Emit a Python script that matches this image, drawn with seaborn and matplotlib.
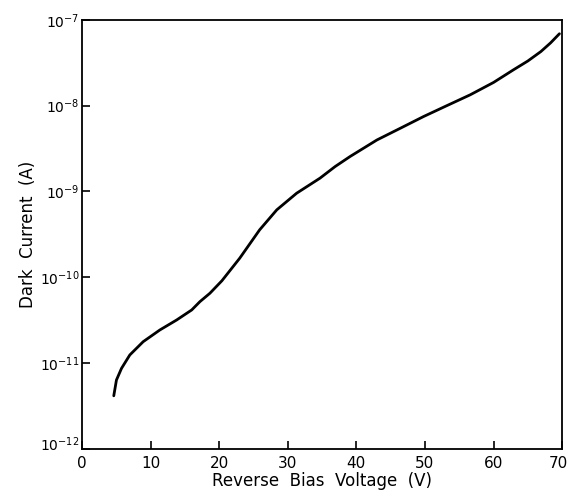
import numpy as np
import pandas as pd
import matplotlib
matplotlib.use("Agg")
import matplotlib.pyplot as plt
import matplotlib.transforms as mtransforms
import seaborn as sns

# Data (voltage in V, log10 of dark current in A)
voltage = [4.64, 5.03, 5.77, 6.98, 8.92, 11.36, 13.8, 16.0, 17.2, 18.66,
           20.4, 23.0, 25.9, 28.4, 31.3, 34.7, 36.9, 39.1, 43.0, 46.5,
           49.8, 53.2, 56.6, 60.0, 62.9, 65.0, 66.9, 68.3, 69.6]
log_current = [-11.38, -11.196, -11.06, -10.904, -10.75, -10.613, -10.497,
               -10.38, -10.283, -10.185, -10.04, -9.777, -9.447, -9.214,
               -9.02, -8.845, -8.71, -8.592, -8.40, -8.26, -8.127, -8.0,
               -7.874, -7.73, -7.583, -7.48, -7.37, -7.27, -7.163]
current = [10 ** v for v in log_current]

x_ticks = [0, 10, 20, 30, 40, 50, 60, 70]
y_ticks = [1e-12, 1e-11, 1e-10, 1e-9, 1e-8, 1e-7]
y_ticklabels = [r"$10^{-12}$", r"$10^{-11}$", r"$10^{-10}$", r"$10^{-9}$",
                r"$10^{-8}$", r"$10^{-7}$"]

df = pd.DataFrame({"Voltage": voltage, "Current": current})

sns.set_style("white")
plt.rcParams["font.family"] = ["DejaVu Sans"]
plt.rcParams["mathtext.fontset"] = "dejavusans"

fig = plt.figure(figsize=(5.69, 4.94), dpi=100)
ax = fig.add_axes([0.144, 0.091, 0.844, 0.869])

sns.lineplot(data=df, x="Voltage", y="Current", ax=ax, color="black",
             linewidth=2.0, estimator=None, sort=False)

ax.set_yscale("log")
ax.set_xticks(x_ticks)
ax.set_xticklabels([str(t) for t in x_ticks], fontsize=11)
ax.set_yticks(y_ticks)
ax.set_yticklabels(y_ticklabels, fontsize=10)
ax.yaxis.set_minor_locator(matplotlib.ticker.NullLocator())
ax.tick_params(axis="both", direction="in", length=6, width=1.2,
               colors="black", top=False, right=False,
               bottom=True, left=True)
ax.tick_params(axis="x", pad=5)
ax.tick_params(axis="y", pad=2)
ax.set_xlim(0, 70)
ax.set_ylim(1e-12, 1e-7)

# small offsets so labels do not collide / get cut
lbl70 = ax.get_xticklabels()[-1]
lbl70.set_transform(lbl70.get_transform() +
                    mtransforms.ScaledTranslation(-3 / 72, 0, fig.dpi_scale_trans))
lbl12 = ax.get_yticklabels()[0]
lbl12.set_transform(lbl12.get_transform() +
                    mtransforms.ScaledTranslation(0, 4 / 72, fig.dpi_scale_trans))

for s in ax.spines.values():
    s.set_color("black")
    s.set_linewidth(1.3)

ax.set_xlabel("Reverse  Bias  Voltage  (V)", fontsize=12, labelpad=1,
              color="black")
ax.set_ylabel("Dark  Current  (A)", fontsize=12, labelpad=2, color="black")

fig.savefig("out.png", dpi=100, facecolor="white")
